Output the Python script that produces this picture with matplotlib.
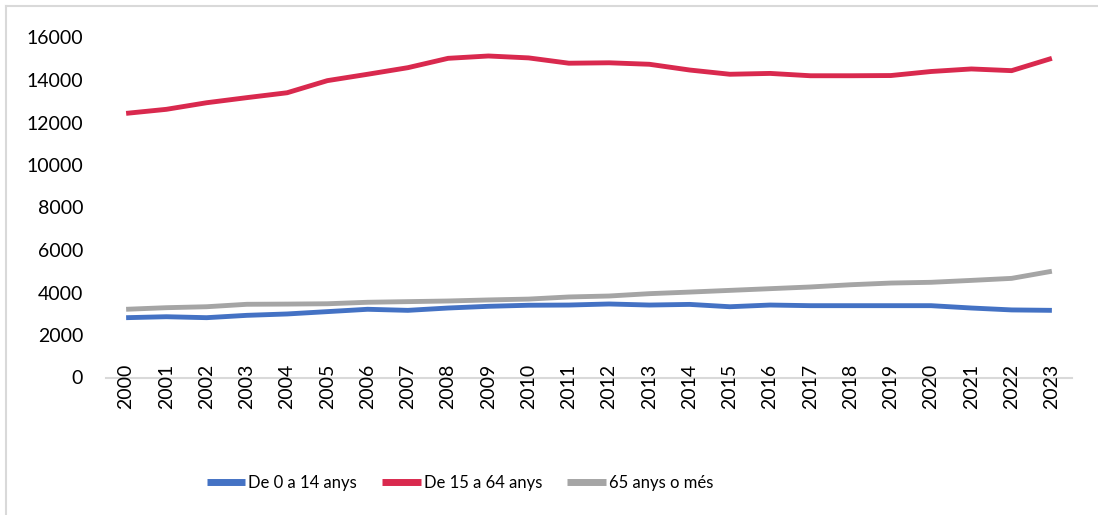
import matplotlib
matplotlib.use("Agg")
import matplotlib.pyplot as plt
from matplotlib.lines import Line2D

plt.rcParams['font.family'] = ['Lato', 'DejaVu Sans']

years = [str(y) for y in range(2000, 2024)]
age_0_14 = [2815, 2860, 2815, 2925, 2990, 3100, 3210, 3160, 3270, 3350, 3400, 3410,
            3460, 3410, 3440, 3330, 3410, 3380, 3380, 3380, 3380, 3270, 3180, 3160]
age_15_64 = [12430, 12620, 12930, 13170, 13400, 13970, 14270, 14580, 15020, 15130, 15040, 14790,
             14810, 14740, 14470, 14270, 14310, 14200, 14200, 14210, 14400, 14520, 14440, 15020]
age_65 = [3210, 3285, 3330, 3445, 3455, 3470, 3540, 3570, 3600, 3650, 3690, 3790,
          3835, 3945, 4020, 4100, 4180, 4260, 4365, 4445, 4480, 4570, 4665, 5000]
labels = ["De 0 a 14 anys", "De 15 a 64 anys", "65 anys o més"]
colors = ["#4472C4", "#D9294E", "#A5A5A5"]
yticks = list(range(0, 16001, 2000))

W, H = 1098, 515
fig = plt.figure(figsize=(W / 100, H / 100), dpi=100)
ax = fig.add_axes([106 / W, 1 - 377.5 / H, (1072 - 106) / W, (377.5 - 37.5) / H])

x = list(range(len(years)))
for series, lab, col in zip([age_0_14, age_15_64, age_65], labels, colors):
    ax.plot(x, series, color=col, linewidth=3.5, label=lab, solid_capstyle='butt', solid_joinstyle='round')

ax.set_xlim(-0.5, len(years) - 0.5)
ax.set_ylim(0, 16000)
ax.set_yticks(yticks)
ax.set_yticklabels([str(v) for v in yticks], fontsize=14)
ax.set_xticks(x)
ax.set_xticklabels(years, rotation=90, fontsize=14, va='top')
ax.tick_params(axis='both', length=0, colors='black')
ax.tick_params(axis='y', pad=16.5)
ax.tick_params(axis='x', pad=-10)
for s in ['top', 'right', 'left']:
    ax.spines[s].set_visible(False)
ax.spines['bottom'].set_color('#D9D9D9')
ax.spines['bottom'].set_linewidth(1.5)
ax.spines['bottom'].set_zorder(0)

leg = fig.legend(loc='center', bbox_to_anchor=(460 / W, 1 - 483 / H), ncol=3, frameon=False,
                 fontsize=12, handlelength=2.3, handletextpad=0.2, columnspacing=1.5)
for h in leg.get_lines():
    h.set_linewidth(5)

fig.add_artist(Line2D([6 / W, 1], [1 - 6 / H, 1 - 6 / H], color='#D9D9D9', linewidth=1.5))
fig.add_artist(Line2D([6 / W, 6 / W], [0, 1 - 6 / H], color='#D9D9D9', linewidth=1.5))

fig.savefig("out.png", dpi=100)
